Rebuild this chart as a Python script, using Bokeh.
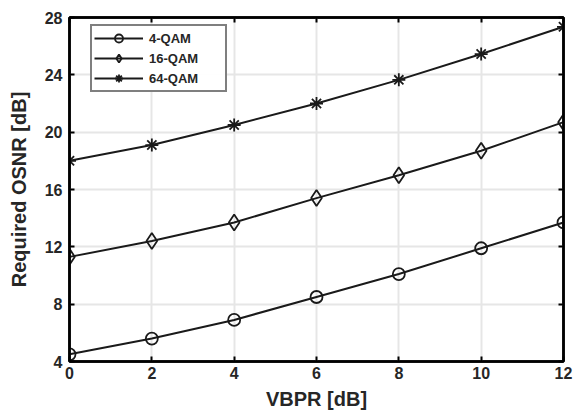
from bokeh.plotting import figure
from bokeh.models import LinearAxis, Legend, LegendItem, FixedTicker
from bokeh.embed import file_html
from bokeh.resources import INLINE

vbpr = [0, 2, 4, 6, 8, 10, 12]
qam4 = [4.5, 5.6, 6.9, 8.5, 10.1, 11.9, 13.7]
qam16 = [11.3, 12.4, 13.7, 15.4, 17.0, 18.7, 20.7]
qam64 = [18.0, 19.1, 20.5, 22.0, 23.65, 25.45, 27.35]
x_ticks = [0, 2, 4, 6, 8, 10, 12]
y_ticks = [4, 8, 12, 16, 20, 24, 28]

FONT = "Liberation Sans"

p = figure(width=578, height=415, output_backend="svg", toolbar_location=None,
           x_range=(0, 12), y_range=(4, 28),
           min_border_left=69, min_border_right=15, min_border_top=17, min_border_bottom=54)
p.outline_line_color = "black"
p.outline_line_width = 2.5
p.background_fill_color = "white"
p.border_fill_color = "white"

p.xgrid.grid_line_color = "#e6e6e6"
p.ygrid.grid_line_color = "#e6e6e6"
p.xgrid.grid_line_width = 2
p.ygrid.grid_line_width = 2
p.xgrid.ticker = FixedTicker(ticks=x_ticks)
p.ygrid.ticker = FixedTicker(ticks=y_ticks)

for ax in [p.xaxis[0], p.yaxis[0]]:
    ax.major_tick_in = 5
    ax.major_tick_out = 0
    ax.minor_tick_in = 0
    ax.minor_tick_out = 0
    ax.major_tick_line_width = 2
    ax.axis_line_width = 2.5
    ax.major_label_text_font = FONT
    ax.major_label_text_font_style = "bold"
    ax.major_label_text_font_size = "16px"
    ax.major_label_text_color = "#262626"
    ax.axis_label_text_font = FONT
    ax.axis_label_text_font_style = "bold"
    ax.axis_label_text_font_size = "20px"
    ax.axis_label_text_color = "#262626"

p.xaxis[0].ticker = FixedTicker(ticks=x_ticks)
p.yaxis[0].ticker = FixedTicker(ticks=y_ticks)
p.xaxis[0].axis_label = "VBPR [dB]"
p.yaxis[0].axis_label = "Required OSNR [dB]"
p.xaxis[0].major_label_standoff = 5
p.yaxis[0].major_label_standoff = 7
p.xaxis[0].axis_label_standoff = 6
p.yaxis[0].axis_label_standoff = 12

top = LinearAxis(ticker=FixedTicker(ticks=[], minor_ticks=x_ticks),
                 major_tick_in=0, major_tick_out=0, minor_tick_in=5, minor_tick_out=0,
                 minor_tick_line_width=2, axis_line_width=2.5, major_label_standoff=0)
right = LinearAxis(ticker=FixedTicker(ticks=[], minor_ticks=y_ticks),
                   major_tick_in=0, major_tick_out=0, minor_tick_in=5, minor_tick_out=0,
                   minor_tick_line_width=2, axis_line_width=2.5, major_label_standoff=0)
p.add_layout(top, "above")
p.add_layout(right, "right")

lc = "#1a1a1a"
l1 = p.line(vbpr, qam4, line_color=lc, line_width=2)
m1 = p.scatter(vbpr, qam4, marker="circle", size=12, fill_color=None, line_color=lc, line_width=1.8)
l2 = p.line(vbpr, qam16, line_color=lc, line_width=2)
m2 = p.scatter(vbpr, qam16, marker="diamond", size=16, fill_color=None, line_color=lc, line_width=1.8)
l3 = p.line(vbpr, qam64, line_color=lc, line_width=2)
m3 = p.scatter(vbpr, qam64, marker="asterisk", size=13, fill_color=None, line_color=lc, line_width=1.8)

legend = Legend(items=[
    LegendItem(label="4-QAM", renderers=[l1, m1]),
    LegendItem(label="16-QAM", renderers=[l2, m2]),
    LegendItem(label="64-QAM", renderers=[l3, m3]),
], location=(21, 269))
legend.border_line_color = "black"
legend.border_line_width = 2.5
legend.label_text_font = FONT
legend.label_text_font_style = "bold"
legend.label_text_font_size = "13px"
legend.label_text_color = "#262626"
legend.glyph_width = 49
legend.glyph_height = 20
legend.spacing = 0
legend.padding = 2
legend.margin = 0
legend.label_standoff = 6
legend.label_width = 74
p.add_layout(legend, "center")

open("out.html", "w").write(file_html(p, INLINE))
